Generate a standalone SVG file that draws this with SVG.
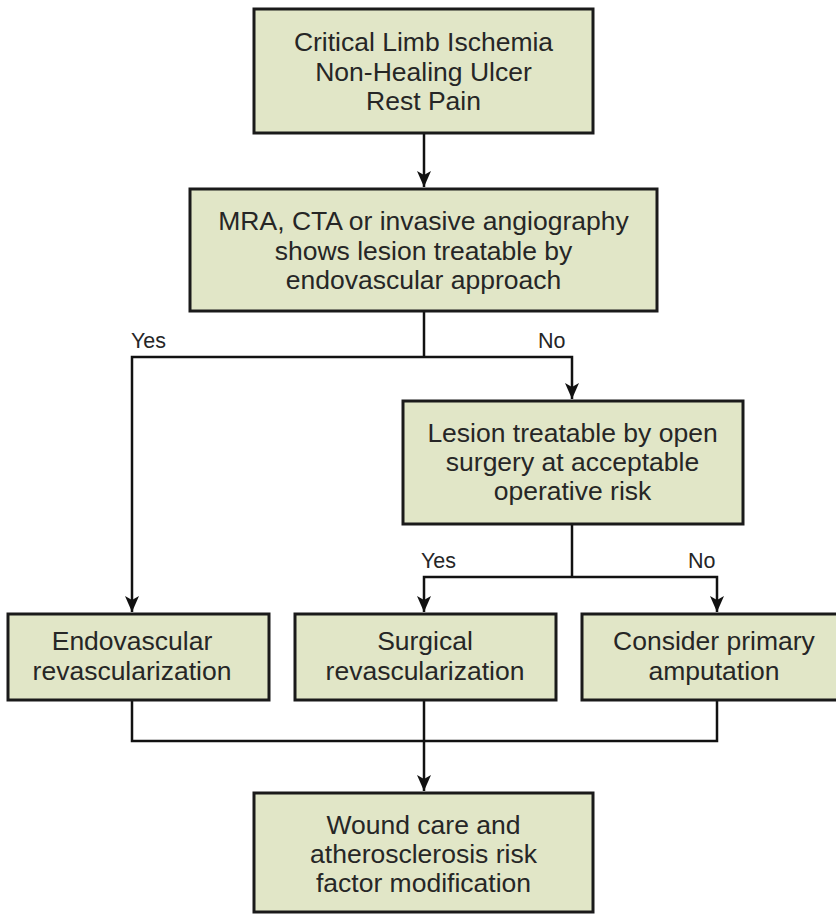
<svg xmlns="http://www.w3.org/2000/svg" width="836" height="916" viewBox="0 0 836 916">
<defs>
<style>
.box{fill:#e1e6c7;stroke:#1a1a1a;stroke-width:3}
.t{font-family:"Liberation Sans",Arial,sans-serif;font-size:26.5px;fill:#262626;text-anchor:middle}
.lbl{font-family:"Liberation Sans",Arial,sans-serif;font-size:21.5px;fill:#262626}
.c{fill:none;stroke:#111;stroke-width:2.5}
</style>
<marker id="ah" viewBox="0 0 16 14" markerWidth="16" markerHeight="14" refX="16" refY="7" orient="auto" markerUnits="userSpaceOnUse">
<path d="M0,0 L16,7 L0,14 L4,7 Z" fill="#111"/>
</marker>
</defs>
<rect width="836" height="916" fill="#fff"/>
<g id="connectors">
<path class="c" d="M424,133 V187" marker-end="url(#ah)"/>
<path class="c" d="M424,311 V357"/>
<path class="c" d="M424,357 H132 V612" marker-end="url(#ah)"/>
<path class="c" d="M424,357 H572 V399" marker-end="url(#ah)"/>
<path class="c" d="M572,524 V577"/>
<path class="c" d="M572,577 H424 V612" marker-end="url(#ah)"/>
<path class="c" d="M572,577 H717 V612" marker-end="url(#ah)"/>
<path class="c" d="M132,700 V741 H717 V700"/>
<path class="c" d="M424,700 V791" marker-end="url(#ah)"/>
<text class="lbl" x="131" y="348">Yes</text>
<text class="lbl" x="538" y="348">No</text>
<text class="lbl" x="421" y="568">Yes</text>
<text class="lbl" x="688" y="568">No</text>
</g>
<g id="n1">
<rect class="box" x="254" y="9" width="339" height="124"/>
<text class="t" x="423.5" y="51">Critical Limb Ischemia</text>
<text class="t" x="423.5" y="80.5">Non-Healing Ulcer</text>
<text class="t" x="423.5" y="110">Rest Pain</text>
</g>
<g id="n2">
<rect class="box" x="190" y="189" width="467" height="122"/>
<text class="t" x="423.5" y="230">MRA, CTA or invasive angiography</text>
<text class="t" x="423.5" y="259.5">shows lesion treatable by</text>
<text class="t" x="423.5" y="289">endovascular approach</text>
</g>
<g id="n3">
<rect class="box" x="403" y="401" width="340" height="123"/>
<text class="t" x="572.5" y="442">Lesion treatable by open</text>
<text class="t" x="572.5" y="471">surgery at acceptable</text>
<text class="t" x="572.5" y="500">operative risk</text>
</g>
<g id="n4">
<rect class="box" x="8" y="614" width="261" height="86"/>
<text class="t" x="132" y="650">Endovascular</text>
<text class="t" x="132" y="680">revascularization</text>
</g>
<g id="n5">
<rect class="box" x="295" y="614" width="261" height="86"/>
<text class="t" x="425" y="650">Surgical</text>
<text class="t" x="425" y="680">revascularization</text>
</g>
<g id="n6">
<rect class="box" x="582" y="614" width="263" height="86"/>
<text class="t" x="714" y="650">Consider primary</text>
<text class="t" x="714" y="680">amputation</text>
</g>
<g id="n7">
<rect class="box" x="254" y="793" width="339" height="119"/>
<text class="t" x="423.5" y="834">Wound care and</text>
<text class="t" x="423.5" y="863">atherosclerosis risk</text>
<text class="t" x="423.5" y="892">factor modification</text>
</g>
</svg>
